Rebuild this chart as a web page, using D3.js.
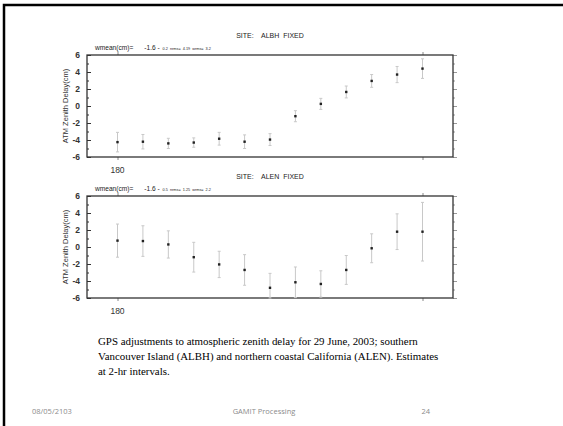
<!DOCTYPE html>
<html>
<head>
<meta charset="utf-8">
<script src="https://cdn.jsdelivr.net/npm/d3@7"></script>
<style>
  body { margin: 0; background: #fff; }
  svg { display: block; }
</style>
</head>
<body>
<div id="canvas"></div>
<script>
// DATA ========================================================================

var DAY = 180
var HOURS = [0, 2, 4, 6, 8, 10, 12, 14, 16, 18, 20, 22, 24]

var ALBH_VALUES = [-4.25, -4.2, -4.4, -4.3, -3.85, -4.2, -3.95, -1.2, 0.25, 1.65, 2.95, 3.7, 4.4]
var ALBH_ERRORS = [1.15, 0.85, 0.6, 0.55, 0.75, 0.8, 0.7, 0.65, 0.65, 0.7, 0.75, 0.95, 1.15]

var ALEN_VALUES = [0.75, 0.7, 0.3, -1.2, -2.05, -2.7, -4.8, -4.15, -4.35, -2.7, -0.15, 1.8, 1.8]
var ALEN_ERRORS = [1.95, 1.8, 1.6, 1.75, 1.55, 1.8, 1.7, 1.8, 1.55, 1.7, 1.7, 2.1, 3.45]

var Y_TICKS = [-6, -4, -2, 0, 2, 4, 6]
var X_TICKS = [180, 181]
var X_LABELS = ["180", ""]

var PANELS = [
    { "site": "ALBH", "stats": ["0.2", "4.19", "3.2"], "values": ALBH_VALUES, "errors": ALBH_ERRORS },
    { "site": "ALEN", "stats": ["0.5", "1.25", "2.2"], "values": ALEN_VALUES, "errors": ALEN_ERRORS }
]

var CAPTION = [
    "GPS adjustments to atmospheric zenith delay for 29 June, 2003; southern",
    "Vancouver Island (ALBH) and northern coastal California (ALEN). Estimates",
    "at 2-hr intervals."
]

// LAYOUT ======================================================================

var WIDTH = 563
var HEIGHT = 426
var FRAME = { "left": 87, "right": 453 }
var PANEL_TOP = [55, 196]
var PANEL_H = 102
var SANS = "'Liberation Sans', Arial, sans-serif"

function translate(x, y) {
    return "translate(" + x + "," + y + ")"
}

var svg = d3.select("#canvas").append("svg")
    .attr("width", WIDTH)
    .attr("height", HEIGHT)

// Slide outline.
svg.append("path")
    .attr("d", "M4," + HEIGHT + " L4,5 L" + WIDTH + ",5")
    .attr("fill", "none")
    .attr("stroke", "#000")
    .attr("stroke-width", 2.5)

var x = d3.scaleLinear().domain([179.9, 181.1]).range([FRAME.left, FRAME.right])

PANELS.forEach(function(p, k) {
    let top = PANEL_TOP[k]
    let y = d3.scaleLinear().domain([-6, 6]).range([top + PANEL_H, top])
    let g = svg.append("g")

    // Title.
    g.append("text")
        .attr("x", 270).attr("y", top - 17)
        .attr("text-anchor", "middle")
        .attr("font-family", SANS).attr("font-size", 7)
        .attr("fill", "#222")
        .attr("xml:space", "preserve")
        .text("SITE:    " + p.site + "  FIXED")

    // Statistics line.
    let s = g.append("text")
        .attr("x", 95).attr("y", top - 5)
        .attr("font-family", SANS).attr("font-size", 6.6)
        .attr("fill", "#222")
        .attr("xml:space", "preserve")
    s.append("tspan").text("wmean(cm)=      -1.6 - ")
    s.append("tspan").attr("font-size", 3.8)
        .text(" " + p.stats[0] + "  nrms=  " + p.stats[1] + "  wrms=  " + p.stats[2])

    // Left axis with inward ticks.
    let yTicksAll = d3.range(-6, 7, 1)
    g.append("g")
        .attr("transform", translate(FRAME.left, 0))
        .call(d3.axisRight(y).tickValues(yTicksAll).tickSize(0).tickFormat(""))
        .call(a => a.select(".domain").remove())
        .selectAll(".tick").append("line")
            .attr("x2", d => d % 2 == 0 ? 4 : 2)
            .attr("stroke", "#333")

    g.selectAll(".ylab")
        .data(Y_TICKS).enter()
        .append("text")
            .attr("x", 80).attr("y", d => y(d) + 3)
            .attr("text-anchor", "end")
            .attr("font-family", SANS).attr("font-size", 8.5)
            .attr("font-weight", "bold")
            .attr("fill", "#333")
            .text(d => d)

    // Right axis with outward ticks.
    g.append("g")
        .attr("transform", translate(FRAME.right, 0))
        .call(d3.axisRight(y).tickValues(yTicksAll).tickSize(0).tickFormat(""))
        .call(a => a.select(".domain").remove())
        .selectAll(".tick").append("line")
            .attr("x2", d => d % 2 == 0 ? 4 : 2)
            .attr("stroke", "#999")

    // X ticks, outward on top and bottom.
    g.append("g")
        .attr("transform", translate(0, top + PANEL_H))
        .call(d3.axisBottom(x).tickValues(X_TICKS).tickSize(3).tickFormat(""))
        .call(a => a.select(".domain").remove())
        .selectAll("line").attr("stroke", "#888")
    g.append("g")
        .attr("transform", translate(0, top))
        .call(d3.axisTop(x).tickValues(X_TICKS).tickSize(3).tickFormat(""))
        .call(a => a.select(".domain").remove())
        .selectAll("line").attr("stroke", "#888")

    g.selectAll(".xlab")
        .data(X_TICKS).enter()
        .append("text")
            .attr("x", d => x(d)).attr("y", top + PANEL_H + 16)
            .attr("text-anchor", "middle")
            .attr("font-family", SANS).attr("font-size", 8.5)
            .attr("fill", "#333")
            .text((d, i) => X_LABELS[i])

    // Frame.
    g.append("rect")
        .attr("x", FRAME.left).attr("y", top)
        .attr("width", FRAME.right - FRAME.left).attr("height", PANEL_H)
        .attr("fill", "none")
        .attr("stroke", "#333")
        .attr("stroke-width", 1.3)

    // Y label.
    g.append("text")
        .attr("transform", translate(68, top + PANEL_H/2) + " rotate(-90)")
        .attr("text-anchor", "middle")
        .attr("font-family", SANS).attr("font-size", 7.5)
        .attr("fill", "#333")
        .text("ATM Zenith Delay(cm)")

    // Error bars and points.
    let pts = HOURS.map((h, i) => ({ "t": DAY + h/24, "v": p.values[i], "e": p.errors[i] }))
    let lo = d => Math.max(-6, d.v - d.e)
    let hi = d => Math.min(6, d.v + d.e)

    let bars = g.selectAll(".bar").data(pts).enter().append("g")
    bars.append("line")
        .attr("x1", d => x(d.t)).attr("x2", d => x(d.t))
        .attr("y1", d => y(hi(d))).attr("y2", d => y(lo(d)))
        .attr("stroke", "#c8c8c8").attr("stroke-width", 1)
    bars.append("line")
        .attr("x1", d => x(d.t) - 1.5).attr("x2", d => x(d.t) + 1.5)
        .attr("y1", d => y(hi(d))).attr("y2", d => y(hi(d)))
        .attr("stroke", "#c8c8c8")
    bars.append("line")
        .attr("x1", d => x(d.t) - 1.5).attr("x2", d => x(d.t) + 1.5)
        .attr("y1", d => y(lo(d))).attr("y2", d => y(lo(d)))
        .attr("stroke", "#c8c8c8")
    bars.append("rect")
        .attr("x", d => x(d.t) - 1.2).attr("y", d => y(d.v) - 1.2)
        .attr("width", 2.4).attr("height", 2.4)
        .attr("fill", "#222")
})

// Caption.
svg.append("g").selectAll("text")
    .data(CAPTION).enter()
    .append("text")
        .attr("x", 98).attr("y", (d, i) => 345 + i*15)
        .attr("font-family", "'Liberation Serif', 'Times New Roman', serif")
        .attr("font-size", 10.9)
        .attr("fill", "#000")
        .text(d => d)

// Footer.
var FOOT = "'Open Sans', 'Liberation Sans', sans-serif"
svg.append("text").attr("x", 32).attr("y", 414)
    .attr("font-family", FOOT).attr("font-size", 7.5).attr("fill", "#8b8b8b")
    .text("08/05/2103")
svg.append("text").attr("x", 264).attr("y", 414).attr("text-anchor", "middle")
    .attr("font-family", FOOT).attr("font-size", 7.5).attr("fill", "#8b8b8b")
    .text("GAMIT  Processing")
svg.append("text").attr("x", 430).attr("y", 414).attr("text-anchor", "end")
    .attr("font-family", FOOT).attr("font-size", 7.5).attr("fill", "#8b8b8b")
    .text("24")
</script>
</body>
</html>
